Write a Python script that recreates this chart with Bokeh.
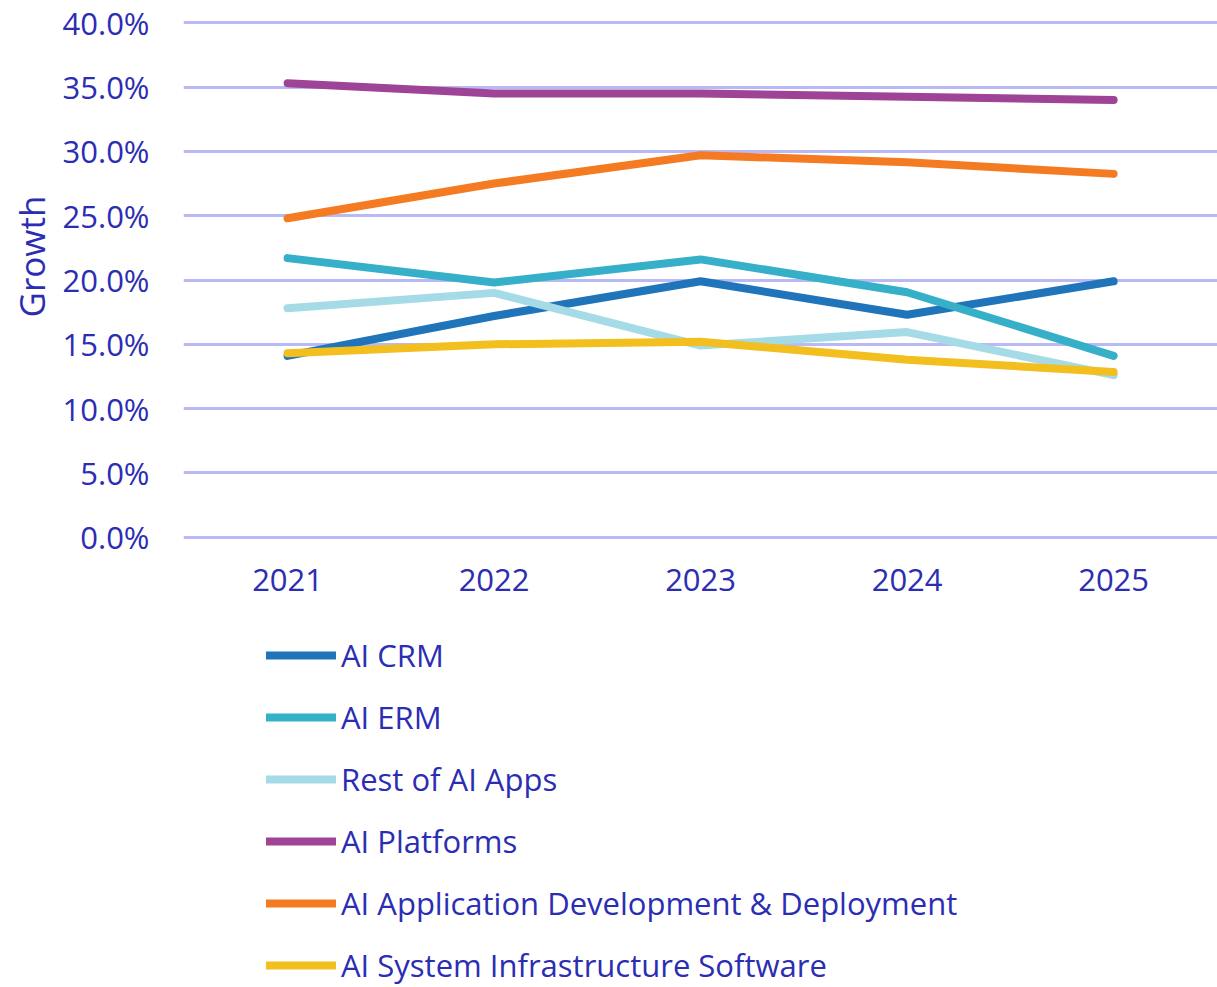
from bokeh.plotting import figure
from bokeh.layouts import column
from bokeh.models import Range1d, FixedTicker, PrintfTickFormatter, Legend, LegendItem, Title
from bokeh.embed import file_html
from bokeh.resources import INLINE

years = [2021, 2022, 2023, 2024, 2025]
ai_crm = [14.1, 17.2, 19.9, 17.3, 19.9]
ai_erm = [21.7, 19.8, 21.6, 19.05, 14.1]
rest_ai_apps = [17.8, 19.0, 14.9, 15.95, 12.6]
ai_platforms = [35.3, 34.5, 34.5, 34.25, 34.0]
ai_app_dev = [24.8, 27.5, 29.7, 29.15, 28.25]
ai_sys_infra = [14.3, 15.0, 15.2, 13.8, 12.85]

series_names = ["AI CRM", "AI ERM", "Rest of AI Apps", "AI Platforms",
                "AI Application Development & Deployment", "AI System Infrastructure Software"]
series_values = [ai_crm, ai_erm, rest_ai_apps, ai_platforms, ai_app_dev, ai_sys_infra]
colors = ["#1F74BA", "#36AFC9", "#A5DBE6", "#9E4396", "#F47B22", "#F2BF1E"]
y_ticks = [0, 5, 10, 15, 20, 25, 30, 35, 40]

TEXT = "#2B2DB3"
FONT = "Open Sans"
W = 1217

p = figure(width=W, height=610, output_backend="svg", toolbar_location=None,
           x_range=Range1d(2020.496, 2025.503), y_range=Range1d(-0.25, 40.25),
           min_border_left=183, min_border_top=19, min_border_right=0, min_border_bottom=70)
p.outline_line_color = None
p.background_fill_color = "white"
p.border_fill_color = "white"

p.xgrid.grid_line_color = None
p.ygrid.grid_line_color = "#B9B9F5"
p.ygrid.grid_line_width = 3
p.ygrid.ticker = FixedTicker(ticks=y_ticks)

p.yaxis.ticker = FixedTicker(ticks=y_ticks)
p.yaxis.formatter = PrintfTickFormatter(format="%.1f%%")
p.xaxis.ticker = FixedTicker(ticks=years)
p.xaxis.formatter = PrintfTickFormatter(format="%d")
for ax in (p.xaxis, p.yaxis):
    ax.axis_line_color = None
    ax.major_tick_line_color = None
    ax.minor_tick_line_color = None
    ax.major_label_text_color = TEXT
    ax.major_label_text_font = FONT
    ax.major_label_text_font_size = "31px"
p.yaxis.major_label_standoff = 28
p.xaxis.major_label_standoff = 22

growth = Title(text="Growth", align="left", offset=223, standoff=10,
               text_font=FONT, text_font_size="35px", text_font_style="normal",
               text_color=TEXT)
p.add_layout(growth, "left")

for vals, c in zip(series_values, colors):
    p.line(years, vals, line_color=c, line_width=8, line_cap="round", line_join="round")

# legend panel below the chart (its frame is aligned with the chart's frame)
lf = figure(width=W, height=377, output_backend="svg", toolbar_location=None,
            x_range=Range1d(0, 1), y_range=Range1d(0, 1),
            x_axis_location=None, y_axis_location=None,
            min_border_left=0, min_border_right=0, min_border_top=0, min_border_bottom=0)
lf.outline_line_color = None
lf.xgrid.grid_line_color = None
lf.ygrid.grid_line_color = None
items = []
for name, vals, c in zip(series_names, series_values, colors):
    r = lf.line(years, vals, line_color=c, line_width=8, line_cap="round")
    items.append(LegendItem(label=name, renderers=[r]))

legend = Legend(items=items, orientation="vertical", location=(83, 1),
                glyph_width=70, glyph_height=42, label_height=42, label_standoff=5,
                spacing=20, padding=0, margin=0, border_line_color=None,
                background_fill_alpha=0,
                label_text_font=FONT, label_text_font_size="31px", label_text_color=TEXT)
lf.add_layout(legend)

layout = column(p, lf, spacing=0)
open("out.html", "w").write(file_html(layout, INLINE))
